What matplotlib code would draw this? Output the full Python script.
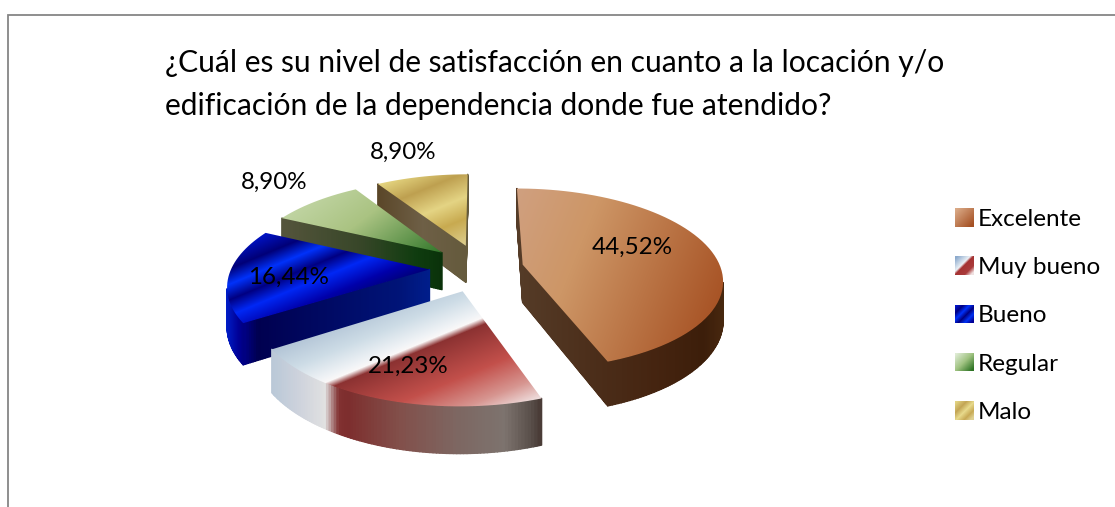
import numpy as np
import matplotlib
matplotlib.use("Agg")
import matplotlib.pyplot as plt
from matplotlib.patches import Patch, Polygon
from matplotlib.collections import PolyCollection
from matplotlib.transforms import Affine2D

# ---------- data ----------
categories = ["Excelente", "Muy bueno", "Bueno", "Regular", "Malo"]
values = [44.52, 21.23, 16.44, 8.90, 8.90]
pct_labels = ["44,52%", "21,23%", "16,44%", "8,90%", "8,90%"]
title = ("¿Cuál es su nivel de satisfacción en cuanto a la locación y/o\n"
         "edificación de la dependencia donde fue atendido?")

# ---------- styles ----------
explode = [0.22, 0.265, 0.255, 0.265, 0.27]
label_xy = [(632, 247), (408, 366), (288, 277), (274, 182), (403, 152)]
draw_order = [4, 3, 2, 1, 0]

top_dir = [(1, 0.4), (0.38, 0.92), (0.38, 0.92), (0.6, 0.8), (0.38, 0.92)]
top_stops = [
    [(0, (208, 160, 128)), (0.35, (205, 150, 102)), (1, (168, 84, 38))],
    [(0, (178, 196, 214)), (0.17, (205, 220, 230)), (0.31, (240, 243, 246)), (0.345, (250, 248, 248)),
     (0.39, (140, 50, 50)), (0.66, (195, 80, 75)), (0.86, (215, 150, 145)), (1, (240, 225, 225))],
    [(0, (0, 20, 200)), (0.2, (0, 0, 120)), (0.35, (0, 50, 250)), (0.5, (0, 0, 130)),
     (0.65, (0, 40, 245)), (0.85, (0, 0, 170)), (1, (0, 0, 120))],
    [(0, (192, 212, 162)), (0.4, (170, 195, 130)), (0.95, (60, 125, 50)), (1, (50, 115, 40))],
    [(0, (230, 215, 130)), (0.25, (190, 160, 80)), (0.5, (228, 212, 132)), (0.72, (200, 170, 80)),
     (1, (222, 208, 145))],
]
side_stops = [
    [(0, (85, 60, 40)), (0.4, (75, 45, 25)), (0.7, (68, 35, 15)), (0.9, (60, 30, 10)), (1, (72, 40, 15))],
    [(0, (185, 200, 215)), (0.1, (205, 210, 220)), (0.2, (225, 225, 225)), (0.25, (130, 50, 50)),
     (0.28, (125, 45, 45)), (0.48, (130, 80, 75)), (0.71, (125, 105, 100)), (0.86, (125, 115, 110)),
     (0.955, (90, 80, 75)), (1, (70, 55, 50))],
    [(0, (0, 30, 200)), (0.06, (0, 0, 150)), (0.15, (0, 0, 80)), (0.85, (0, 20, 120)), (1, (0, 30, 140))],
    [(0, (85, 85, 60)), (0.5, (55, 70, 40)), (0.85, (15, 60, 15)), (1, (10, 50, 10))],
    [(0, (90, 70, 40)), (0.5, (110, 95, 70)), (1, (100, 90, 60))],
]
legend_stops = [
    [(0, (218, 170, 135)), (1, (165, 80, 35))],
    [(0, (140, 170, 205)), (0.4, (235, 240, 245)), (0.5, (165, 50, 50)), (0.8, (170, 60, 60)), (1, (240, 225, 225))],
    [(0, (0, 20, 200)), (0.2, (0, 0, 130)), (0.4, (0, 50, 250)), (0.6, (0, 0, 130)), (0.8, (0, 50, 245)), (1, (0, 0, 150))],
    [(0, (222, 235, 212)), (0.5, (160, 195, 130)), (1, (45, 115, 35))],
    [(0, (225, 210, 130)), (0.3, (195, 165, 85)), (0.55, (232, 218, 140)), (0.8, (200, 170, 85)), (1, (222, 208, 145))],
]
mid_colors = ["#b8733f", "#c05050", "#0020d0", "#80a860", "#d0b860"]

# projection of the tilted pie onto the page
X0, Y0, RX, RY, PERSP, DEPTH = 480.0, 268.0, 198.0, 89.0, 0.156, 38.0
FONT = "Lato"
plt.rcParams["font.family"] = [FONT, "DejaVu Sans"]


def ramp(t, stops):
    pos = [s[0] for s in stops]
    return np.stack([np.interp(t, pos, [s[1][c] for s in stops]) for c in range(3)], axis=-1)


def project(pts):
    d = 1 + PERSP * pts[:, 1]
    return np.column_stack([X0 + RX * pts[:, 0] / d, Y0 - RY * pts[:, 1] / d])


def wedge_outline(w):
    path = w.get_patch_transform().transform_path(w.get_path())
    poly = path.to_polygons(Affine2D().scale(400))[0] / 400
    out = []
    for a, b in zip(poly[:-1], poly[1:]):
        n = max(1, int(np.hypot(*(b - a)) / 0.012))
        out.append(a + (b - a) * np.linspace(0, 1, n, endpoint=False)[:, None])
    return np.vstack(out)


def gradient_image(ax, xy, direction, stops, zorder):
    l, r = np.floor(xy[:, 0].min()) - 1, np.ceil(xy[:, 0].max()) + 1
    t, b = np.floor(xy[:, 1].min()) - 1, np.ceil(xy[:, 1].max()) + 1
    gx, gy = np.meshgrid(np.arange(l, r) + 0.5, np.arange(t, b) + 0.5)
    nx, ny = direction
    proj = xy[:, 0] * nx + xy[:, 1] * ny
    tt = (gx * nx + gy * ny - proj.min()) / (proj.max() - proj.min())
    img = ramp(np.clip(tt, 0, 1), stops).astype(np.uint8)
    return ax.imshow(img, extent=(l, r, b, t), origin="upper", aspect="auto",
                     interpolation="bilinear", zorder=zorder)


fig = plt.figure(figsize=(11.15, 5.07), dpi=100)
ax = fig.add_axes([0, 0, 1, 1])

wedges, _ = ax.pie(values, explode=explode, startangle=90, counterclock=False,
                   radius=1, colors=mid_colors)
outlines = [wedge_outline(w) for w in wedges]
for w in wedges:
    w.set_visible(False)
ax.set_aspect("auto")

z = 2.0
for i in draw_order:
    plane = outlines[i]
    top = project(plane)
    depth = DEPTH / (1 + PERSP * plane[:, 1])
    bot = top + np.column_stack([np.zeros(len(top)), depth])
    j = np.roll(np.arange(len(top)), -1)
    quads = np.stack([top, top[j], bot[j], bot], axis=1)
    xmin, xmax = top[:, 0].min(), top[:, 0].max()
    colors = ramp((quads[:, :, 0].mean(axis=1) - xmin) / (xmax - xmin), side_stops[i]) / 255
    # keep only the wall faces that look towards the viewer
    area = np.sum(top[:, 0] * top[j, 1] - top[j, 0] * top[:, 1])
    facing = (top[j, 0] - top[:, 0]) * np.sign(area) < 0
    keep = np.where(facing)[0]
    order = keep[np.argsort(-(plane[keep, 1] + plane[j[keep], 1]))]
    pc = PolyCollection(quads[order], facecolors=colors[order], edgecolors=colors[order],
                        linewidths=1.0, zorder=z)
    ax.add_collection(pc)
    z += 0.1
    im = gradient_image(ax, top, top_dir[i], top_stops[i], z)
    im.set_clip_path(Polygon(top, closed=True, transform=ax.transData))
    z += 0.1

for (x, y), s in zip(label_xy, pct_labels):
    ax.text(x, y, s, ha="center", va="center", fontsize=17.4, color="black", zorder=10)

ax.text(165, 63, title.split("\n")[0], ha="left", va="center", fontsize=21.6, color="black", zorder=10)
ax.text(165, 106, title.split("\n")[1], ha="left", va="center", fontsize=21.6, color="black", zorder=10)

ax.plot([8, 8, 1115], [507, 14.5, 14.5], color="#868686", lw=1.3, solid_joinstyle="miter", zorder=1)

ax.set_xlim(0, 1115)
ax.set_ylim(507, 0)
ax.axis("off")

handles = [Patch(facecolor=c, edgecolor="none", label=n) for c, n in zip(mid_colors, categories)]
leg = ax.legend(handles=handles, loc="upper left", bbox_to_anchor=(956 / 1115, 1 - 209 / 507),
                frameon=False, fontsize=17.5, borderpad=0, borderaxespad=0,
                handlelength=0.66, handleheight=0.62, handletextpad=0.25, labelspacing=1.12)
for t in leg.get_texts():
    t.set_color("black")
fig.canvas.draw()
inv = ax.transData.inverted()
for h, st in zip(leg.legend_handles, legend_stops):
    bb = h.get_window_extent(fig.canvas.get_renderer())
    (l, b), (r, t) = inv.transform([(bb.x0, bb.y0), (bb.x1, bb.y1)])
    sq = np.array([[l, t], [r, t], [r, b], [l, b]])
    gradient_image(ax, sq, (1, 1), st, 7)
ax.set_xlim(0, 1115)
ax.set_ylim(507, 0)

fig.savefig("out.png", dpi=100)
